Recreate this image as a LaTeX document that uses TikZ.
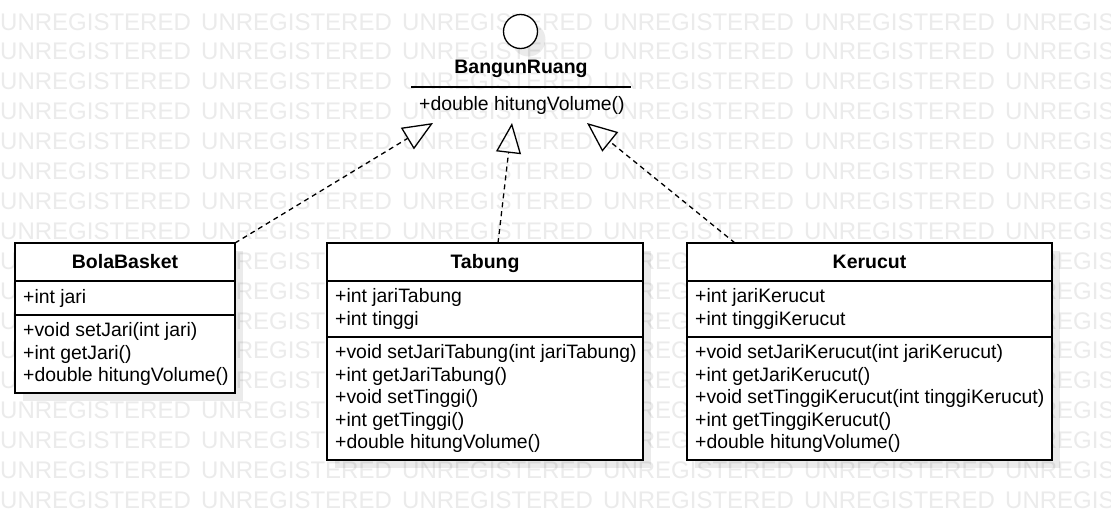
\documentclass[tikz,border=0pt]{standalone}
\usepackage{fontspec}
\setmainfont{Liberation Sans}
\usepackage{xcolor}
\usepackage{tikz}
\usetikzlibrary{arrows.meta}
\usetikzlibrary{positioning}
\usetikzlibrary{shadows}

\definecolor{marcaagua}{HTML}{EBEBEB}

\begin{document}
\begin{tikzpicture}[x=1pt, y=-1pt,
        sombra/.style={drop shadow={shadow xshift=8pt, shadow yshift=-8pt, opacity=0.08, fill=black}},
        caja/.style={draw, line width=1.3pt, fill=white, inner sep=0pt, outer sep=0pt, sombra},
        cabecera/.style={caja, anchor=north west, minimum height=38pt, font=\fontsize{19.5}{22.5}\selectfont\bfseries, text height=13.9pt, text depth=0pt},
        texto/.style={inner sep=0pt, align=left, font=\fontsize{19.4}{22.5}\selectfont},
        marca/.style={inner sep=0pt, anchor=base west, text=marcaagua, font=\fontsize{24}{28}\selectfont},
        realiza/.style={line width=1.3pt, dash pattern=on 5pt off 4pt, -{Triangle[open, length=30pt, width=25pt]}}]
        \useasboundingbox[fill=white] (0,0) rectangle (1111,520);

        % Marca de agua
        \foreach \fila in {0,...,16}
            \foreach \col in {0,...,5}
                \node[marca] (marca-\fila-\col) at (\col*201, 30+\fila*29.9) {UNREGISTERED};

        % Interfaz
        \node[caja, circle, minimum size=34pt] (bangunCirc) at (520.5,31.5) {};
        \node[texto, font=\fontsize{19.5}{22.5}\selectfont\bfseries, text height=13.9pt, text depth=0pt] (bangunNombre) at (521,67) {BangunRuang};
        \node[anchor=north west, minimum width=220pt, minimum height=36pt, inner sep=0pt, outer sep=0pt] (bangunOps) at (411,87) {};
        \node[texto, right=8pt of bangunOps.west] (bangunOpsTxt) {+double hitungVolume()};
        \draw[line width=1.3pt] (bangunOps.north west) -- (bangunOps.north east);

        % Clase BolaBasket
        \node[cabecera, minimum width=220pt] (bolaHead) at (15,243) {BolaBasket};
        \node[caja, minimum width=220pt, minimum height=34pt, below=0pt of bolaHead] (bolaAttr) {};
        \node[texto, right=8pt of bolaAttr.west] (bolaAttrTxt) {+int jari};
        \node[caja, minimum width=220pt, minimum height=78pt, below=0pt of bolaAttr] (bolaOps) {};
        \node[texto, right=8pt of bolaOps.west] (bolaOpsTxt) {+void setJari(int jari)\\+int getJari()\\+double hitungVolume()};

        % Clase Tabung
        \node[cabecera, minimum width=316pt] (tabHead) at (327,243) {Tabung};
        \node[caja, minimum width=316pt, minimum height=56pt, below=0pt of tabHead] (tabAttr) {};
        \node[texto, right=8pt of tabAttr.west] (tabAttrTxt) {+int jariTabung\\+int tinggi};
        \node[caja, minimum width=316pt, minimum height=123pt, below=0pt of tabAttr] (tabOps) {};
        \node[texto, right=8pt of tabOps.west] (tabOpsTxt) {+void setJariTabung(int jariTabung)\\+int getJariTabung()\\+void setTinggi()\\+int getTinggi()\\+double hitungVolume()};

        % Clase Kerucut
        \node[cabecera, minimum width=365pt] (kerHead) at (687,243) {Kerucut};
        \node[caja, minimum width=365pt, minimum height=56pt, below=0pt of kerHead] (kerAttr) {};
        \node[texto, right=8pt of kerAttr.west] (kerAttrTxt) {+int jariKerucut\\+int tinggiKerucut};
        \node[caja, minimum width=365pt, minimum height=123pt, below=0pt of kerAttr] (kerOps) {};
        \node[texto, right=8pt of kerOps.west] (kerOpsTxt) {+void setJariKerucut(int jariKerucut)\\+int getJariKerucut()\\+void setTinggiKerucut(int tinggiKerucut)\\+int getTinggiKerucut()\\+double hitungVolume()};

        % Realizaciones
        \draw[realiza] (bolaHead.north east) -- ([xshift=22pt]bangunOps.south west);
        \draw[realiza] ([xshift=13pt]tabHead.north) -- ([xshift=-9pt]bangunOps.south);
        \draw[realiza] ([xshift=48pt]kerHead.north west) -- ([xshift=66pt]bangunOps.south);
    \end{tikzpicture}
\end{document}
